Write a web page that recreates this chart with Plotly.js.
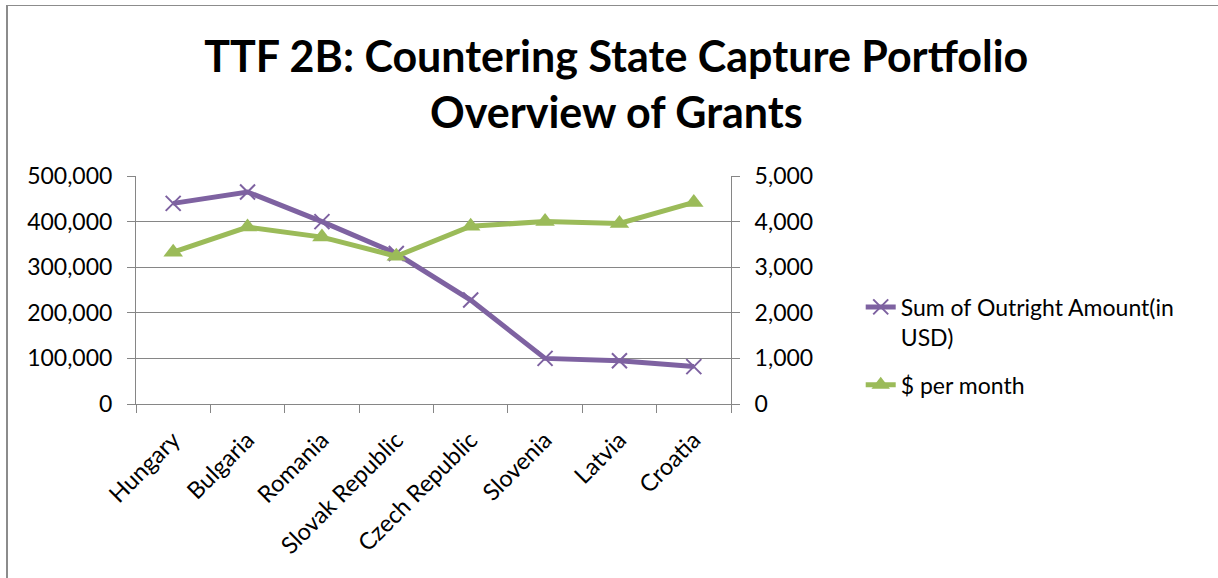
<!DOCTYPE html>
<html>
<head>
<meta charset="utf-8">
<script src="https://cdn.plot.ly/plotly-3.0.1.min.js"></script>
<style>
html,body{margin:0;padding:0;background:#fff;}
#frame{position:absolute;left:6px;top:5px;width:1212px;height:573px;border-left:2px solid #8c8c8c;border-top:1px solid #8c8c8c;box-sizing:border-box;pointer-events:none;z-index:5;}
#chart{position:absolute;left:0;top:0;width:1218px;height:578px;}
</style>
</head>
<body>
<div id="chart"></div>
<div id="frame"></div>
<script>
const categories = ["Hungary", "Bulgaria", "Romania", "Slovak Republic", "Czech Republic", "Slovenia", "Latvia", "Croatia"];
const outrightAmount = [440000, 465000, 400000, 330000, 228000, 100000, 95000, 82000];
const perMonth = [3330, 3880, 3660, 3240, 3900, 4000, 3960, 4420];
const seriesNames = ["Sum of Outright Amount(in<br>USD)", "$ per month"];
const titleLines = ["TTF 2B: Countering State Capture Portfolio", "Overview of Grants"];

const FONT = "Lato, 'Open Sans', sans-serif";
const GRID = "#868686";

const traces = [
  {
    x: categories, y: outrightAmount, name: seriesNames[0], type: "scatter", mode: "lines+markers",
    yaxis: "y", legendgroup: "a",
    line: {color: "#7E62A1", width: 5},
    marker: {symbol: "x-thin", size: 15, line: {color: "#7E62A1", width: 2}, color: "#7E62A1"}
  },
  {
    x: categories, y: perMonth, name: seriesNames[1], type: "scatter", mode: "lines+markers",
    yaxis: "y2", legendgroup: "b",
    line: {color: "#9BBB59", width: 5},
    marker: {symbol: "triangle-up", size: 17, color: "#9BBB59"}
  }
];

const layout = {
  width: 1218, height: 578,
  paper_bgcolor: "#fff", plot_bgcolor: "#fff",
  margin: {l: 136, r: 487, t: 176, b: 174, pad: 0},
  font: {family: FONT, size: 23, color: "#000"},
  title: {
    text: "<b>" + titleLines.join("<br>") + "</b>",
    font: {family: FONT, size: 43, color: "#000"},
    x: 0.506, xanchor: "center", y: 0.875, yanchor: "top", yref: "container"
  },
  showlegend: true,
  legend: {
    x: 1.218, xanchor: "left", y: 0.52, yanchor: "top",
    font: {family: FONT, size: 23, color: "#000"},
    valign: "top", tracegroupgap: 15, bgcolor: "rgba(0,0,0,0)"
  },
  xaxis: {
    type: "category", range: [-0.5, 7.5],
    showline: true, linecolor: GRID, linewidth: 1,
    ticks: "outside", ticklen: 8, tickcolor: GRID, tickson: "boundaries",
    showgrid: false, tickangle: -45, ticklabelstandoff: 12,
    tickfont: {family: FONT, size: 23.5, color: "#000"}
  },
  yaxis: {
    range: [0, 500000], dtick: 100000, tickformat: ",d",
    showline: true, linecolor: GRID, linewidth: 1,
    ticks: "outside", ticklen: 8, tickcolor: GRID,
    showgrid: true, gridcolor: GRID, gridwidth: 1, zeroline: false,
    ticklabelstandoff: 10,
    tickfont: {family: FONT, size: 23, color: "#000"}
  },
  yaxis2: {
    range: [0, 5000], dtick: 1000, tickformat: ",d",
    overlaying: "y", side: "right",
    showline: true, linecolor: GRID, linewidth: 1,
    ticks: "outside", ticklen: 8, tickcolor: GRID,
    showgrid: false, zeroline: false,
    ticklabelstandoff: 10,
    tickfont: {family: FONT, size: 23, color: "#000"}
  }
};

Plotly.newPlot("chart", traces, layout, {displayModeBar: false, staticPlot: true});
</script>
</body>
</html>
